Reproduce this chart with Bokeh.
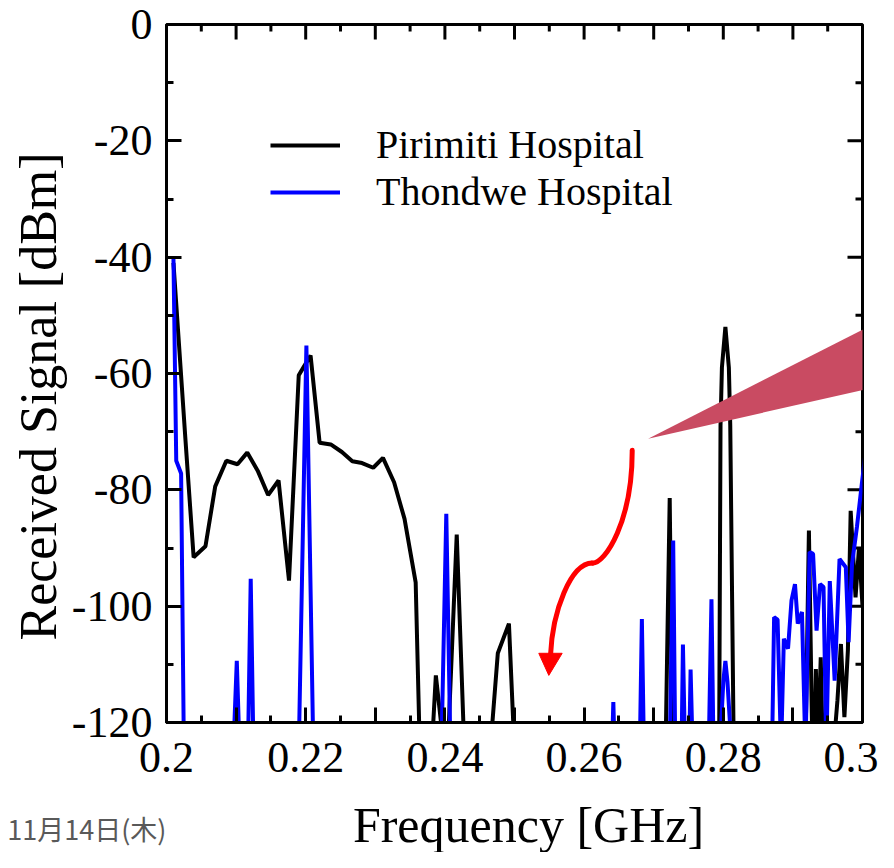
from bokeh.plotting import figure
from bokeh.layouts import column
from bokeh.models import (FixedTicker, Range1d, Legend, LegendItem, Title,
                          PolyAnnotation)
from bokeh.embed import file_html
from bokeh.resources import INLINE
from bokeh.core.properties import value

# ---------------- data ----------------
pirimiti_freq = [0.2010, 0.2027, 0.2039, 0.2056, 0.2070, 0.2086, 0.2102, 0.2116,
                 0.2131, 0.2146, 0.2161, 0.2176, 0.2190, 0.2197, 0.2207, 0.2220,
                 0.2236, 0.2252, 0.2267, 0.2281, 0.2297, 0.2311, 0.2327, 0.2342,
                 0.2358, 0.2364, 0.2381, 0.2387, 0.2399, 0.2404, 0.2417, 0.2428,
                 0.2465, 0.2476, 0.2492, 0.2500,
                 0.2717, 0.2723, 0.2727,
                 0.2794, 0.2796, 0.2798, 0.2803, 0.2808, 0.2810, 0.2815,
                 0.2918, 0.2923, 0.2928, 0.2931, 0.2933, 0.2936, 0.2940, 0.2943,
                 0.2958, 0.2964, 0.2969, 0.2974, 0.2979, 0.2983, 0.2990, 0.2995,
                 0.3000]
pirimiti_dbm = [-41, -71, -91.6, -89.7, -79.4, -75.0, -75.6, -73.6,
                -76.7, -80.9, -78.4, -95.6, -60.3, -58.9, -56.9, -71.9,
                -72.2, -73.5, -75.1, -75.4, -76.2, -74.5, -78.7, -85.0,
                -95.9, -125, -125, -111.9, -125, -125, -87.7, -125,
                -125, -108.1, -103.0, -125,
                -125, -81.4, -125,
                -125, -69, -59, -52, -59, -69, -125,
                -125, -87.0, -125, -125, -110.8, -125, -108.8, -125,
                -125, -116.2, -106.5, -119.1, -107.6, -83.6, -98.5, -89.9,
                -100]

thondwe_freq = [0.2010, 0.2014, 0.2021, 0.2025,
                0.2096, 0.2101, 0.2105,
                0.2117, 0.2121, 0.2125,
                0.2190, 0.2201, 0.2211,
                0.2395, 0.2402, 0.2408,
                0.2640, 0.2642, 0.2644,
                0.2680, 0.2683, 0.2686,
                0.2723, 0.2728, 0.2731,
                0.2740, 0.2742, 0.2745,
                0.2751, 0.2753, 0.2756,
                0.2779, 0.2783, 0.2786,
                0.2795, 0.2800, 0.2803, 0.2806, 0.2812,
                0.2870, 0.2873, 0.2878, 0.2883, 0.2887, 0.2893, 0.2898, 0.2903,
                0.2907, 0.2913, 0.2918, 0.2924, 0.2929, 0.2934, 0.2939, 0.2944,
                0.2948, 0.2953, 0.2960, 0.2967, 0.2976, 0.2980, 0.2985, 0.2992,
                0.2999, 0.3006]
thondwe_dbm = [-40.3, -75.0, -77.2, -125,
               -125, -109.4, -125,
               -125, -95.3, -125,
               -125, -55.2, -125,
               -125, -84.1, -125,
               -125, -116.5, -125,
               -125, -102.2, -125,
               -125, -88.7, -125,
               -125, -106.6, -125,
               -125, -110.9, -125,
               -125, -98.8, -125,
               -125, -113, -109.4, -113, -125,
               -125, -101.9, -102.3, -125, -105.6, -107.3, -99.0, -96.2,
               -103.0, -101.0, -125, -90.7, -91.0, -104.2, -96.2, -96.7,
               -125, -95.7, -112.8, -91.9, -93.3, -106.2, -92.7, -86.4,
               -79.0, -72.0]

series_names = ["Pirimiti Hospital", "Thondwe Hospital"]
series_colors = ["black", "blue"]

x_ticks = [0.20, 0.21, 0.22, 0.23, 0.24, 0.25, 0.26, 0.27, 0.28, 0.29, 0.30]
x_minor = [0.205, 0.215, 0.225, 0.235, 0.245, 0.255, 0.265, 0.275, 0.285, 0.295]
x_tick_labels = ["0.2", "", "0.22", "", "0.24", "", "0.26", "", "0.28", "", "0.3"]
y_ticks = [-120, -100, -80, -60, -40, -20, 0]
y_minor = [-110, -90, -70, -50, -30, -10]
y_tick_labels = ["-120", "-100", "-80", "-60", "-40", "-20", "0"]

x_title = "Frequency [GHz]"
y_title = "Received Signal [dBm]"
date_text = "11月14日(木)"

SERIF = "Liberation Serif"
X0, X1, Y0, Y1 = 0.2, 0.3, -120, 0

# ---------------- main figure ----------------
W = 878
H_MAIN = 794
LEFT, TOP = 166, 24
FRAME_W, FRAME_H = 696, 698
RIGHT = W - LEFT - FRAME_W
p = figure(width=W, height=H_MAIN, output_backend="svg", toolbar_location=None,
           x_range=Range1d(X0, X1), y_range=Range1d(Y0, Y1),
           min_border_left=LEFT, min_border_right=RIGHT,
           min_border_top=TOP, min_border_bottom=H_MAIN - TOP - FRAME_H)
p.xgrid.visible = False
p.ygrid.visible = False
p.outline_line_color = "black"
p.outline_line_width = 3
p.background_fill_color = "white"
p.border_fill_color = "white"


def style_axis(ax, ticks, minor, labels, standoff):
    ax.ticker = FixedTicker(ticks=ticks, minor_ticks=minor)
    ax.major_label_overrides = {t: l for t, l in zip(ticks, labels)}
    ax.axis_line_width = 3
    ax.axis_line_color = "black"
    ax.major_tick_line_width = 3
    ax.minor_tick_line_width = 3
    ax.major_tick_in = 15
    ax.major_tick_out = 0
    ax.minor_tick_in = 7
    ax.minor_tick_out = 0
    ax.major_label_text_font = SERIF
    ax.major_label_text_color = "black"
    ax.major_label_text_font_size = "44px"
    ax.major_label_standoff = standoff


style_axis(p.xaxis[0], x_ticks, x_minor, x_tick_labels, 20)
style_axis(p.yaxis[0], y_ticks, y_minor, y_tick_labels, 14)

# mirrored inward ticks on the top and right edges (from the same tick lists)
MAJ_PX, MIN_PX = 15, 7
dy_per_px = (Y1 - Y0) / FRAME_H
dx_per_px = (X1 - X0) / FRAME_W
tick_kw = dict(line_color="black", line_width=3)
p.segment(x0=x_ticks, y0=[Y1] * len(x_ticks), x1=x_ticks,
          y1=[Y1 - MAJ_PX * dy_per_px] * len(x_ticks), **tick_kw)
p.segment(x0=x_minor, y0=[Y1] * len(x_minor), x1=x_minor,
          y1=[Y1 - MIN_PX * dy_per_px] * len(x_minor), **tick_kw)
p.segment(x0=[X1] * len(y_ticks), y0=y_ticks, x1=[X1 - MAJ_PX * dx_per_px] * len(y_ticks),
          y1=y_ticks, **tick_kw)
p.segment(x0=[X1] * len(y_minor), y0=y_minor, x1=[X1 - MIN_PX * dx_per_px] * len(y_minor),
          y1=y_minor, **tick_kw)

# y-axis title on the left (starts a bit above the frame bottom, as in the slide)
p.add_layout(Title(text=y_title, align="left", offset=82, text_font=SERIF,
                   text_font_size="52px", text_font_style="normal",
                   text_color="black", standoff=4), "left")

# ---------------- decoration from the slide (callout wedge) ----------------
wedge = PolyAnnotation(xs=[0.2692, 0.3046, 0.3046], ys=[-71.2, -49.7, -61.6],
                       fill_color="#c94b62", fill_alpha=1.0, line_color=None)
p.add_layout(wedge)

# ---------------- data lines ----------------
r1 = p.line(pirimiti_freq, pirimiti_dbm, line_color=series_colors[0], line_width=4)
r2 = p.line(thondwe_freq, thondwe_dbm, line_color=series_colors[1], line_width=4)

# red curved arrow (slide annotation)
p.bezier(x0=[0.26691, 0.26116], y0=[-73.2, -92.6], x1=[0.26116, 0.25517], y1=[-92.6, -108.5],
         cx0=[0.26695, 0.25805], cy0=[-85.3, -92.7], cx1=[0.26307, 0.25546], cy1=[-92.7, -100.8],
         line_color="red", line_width=5, line_cap="round")
p.patch([0.25349, 0.25685, 0.25493], [-108.1, -108.1, -111.9], color="red")

legend = Legend(items=[LegendItem(label=series_names[0], renderers=[r1]),
                       LegendItem(label=series_names[1], renderers=[r2])],
                location=(104, 507), orientation="vertical",
                border_line_color=None, background_fill_alpha=0,
                label_text_font=SERIF, label_text_font_size="40px",
                label_text_color="black",
                glyph_width=70, glyph_height=44, label_height=44,
                label_standoff=36, padding=0, spacing=-5, margin=0)
p.add_layout(legend)

# ---------------- strip below: x-axis title and the slide date ----------------
H_LOW = 58
q = figure(width=W, height=H_LOW, output_backend="svg", toolbar_location=None,
           x_range=Range1d(LEFT, LEFT + FRAME_W), y_range=Range1d(0, H_LOW),
           x_axis_location=None, y_axis_location="left",
           min_border_left=LEFT, min_border_right=RIGHT,
           min_border_top=0, min_border_bottom=0)
q.xgrid.visible = False
q.ygrid.visible = False
q.outline_line_color = None
# the slide date, drawn as the strip's single (left) tick label
DATE_Y = 24
qa = q.yaxis[0]
qa.ticker = FixedTicker(ticks=[DATE_Y], minor_ticks=[])
qa.major_label_overrides = {DATE_Y: date_text}
qa.axis_line_color = None
qa.major_tick_line_color = None
qa.minor_tick_line_color = None
qa.major_tick_in = 0
qa.major_tick_out = 0
qa.major_label_standoff = 0
qa.major_label_text_font = "Noto Sans CJK JP"
qa.major_label_text_font_size = "27px"
qa.major_label_text_color = "#595959"

q.text(x=[528], y=[0], text=[x_title], text_font=value(SERIF),
       text_font_size=value("50px"), text_align="center", text_baseline="bottom",
       text_color="black")

layout = column(p, q, spacing=0)
open("out.html", "w").write(file_html(layout, INLINE))
